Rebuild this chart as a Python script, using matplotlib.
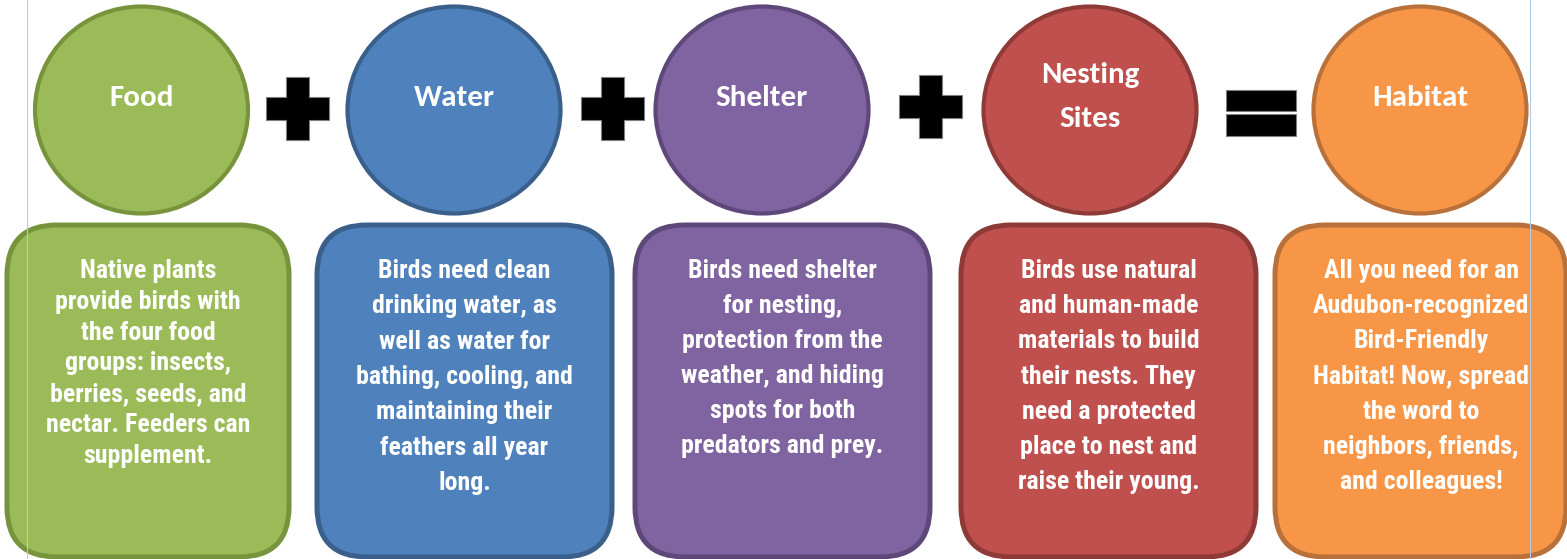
import matplotlib
matplotlib.use("Agg")
import matplotlib.pyplot as plt
from matplotlib import font_manager
from matplotlib.patches import Ellipse, FancyBboxPatch, Polygon, Rectangle
from matplotlib.transforms import Bbox, TransformedBbox

# ---------------- data ----------------
titles = ["Food", "Water", "Shelter", "Nesting\nSites", "Habitat"]
descriptions = [
    ["Native plants", "provide birds with", "the four food", "groups: insects,",
     "berries, seeds, and", "nectar. Feeders can", "supplement."],
    ["Birds need clean", "drinking water, as", "well as water for",
     "bathing, cooling, and", "maintaining their", "feathers all year", "long."],
    ["Birds need shelter", "for nesting,", "protection from the",
     "weather, and hiding", "spots for both", "predators and prey."],
    ["Birds use natural", "and human-made", "materials to build",
     "their nests. They", "need a protected", "place to nest and",
     "raise their young."],
    ["All you need for an", "Audubon-recognized", "Bird-Friendly",
     "Habitat! Now, spread", "the word to", "neighbors, friends,",
     "and colleagues!"],
]
operators = ["+", "+", "+", "="]
fill_colors = ["#9BBB59", "#4F81BD", "#8064A2", "#C0504D", "#F79646"]
edge_colors = ["#77933C", "#3A5F8B", "#5E4879", "#8E3B38", "#B8713A"]

# ---------------- layout ----------------
W, H = 1567, 559
circle_cx = [141.5, 454, 762, 1090, 1420]
circle_cy = 110
circle_w, circle_h = 213, 207
box_x = [(7, 289), (317, 612), (635, 930), (961, 1256), (1275, 1566)]
box_top, box_bot = 225, 557
box_text_baseline0 = 278
box_line_gap = [30.8, 35.3, 35.0, 35.2, 35.2]
op_cx = [297.5, 612, 930, 1261]
op_cy = [108, 108.5, 106.5, 113]

names = {f.name for f in font_manager.fontManager.ttflist}
if "Roboto Condensed" in names:
    body_font, body_size = "Roboto Condensed", 18.6
elif "Liberation Sans Narrow" in names:
    body_font, body_size = "Liberation Sans Narrow", 18.6
else:
    body_font, body_size = "Liberation Sans", 15.8
if "Carlito" in names:
    title_font, title_size = "Carlito", 22.3
else:
    title_font, title_size = ("Lato" if "Lato" in names else "DejaVu Sans"), 20

fig = plt.figure(figsize=(W / 100, H / 100), dpi=100)
ax = fig.add_axes([0, 0, 1, 1])
ax.set_xlim(0, W)
ax.set_ylim(H, 0)
ax.axis("off")

clip = TransformedBbox(Bbox([[0, 0], [1530, H]]), ax.transData)

for i, title in enumerate(titles):
    ax.add_patch(Ellipse((circle_cx[i], circle_cy), circle_w, circle_h,
                         facecolor=fill_colors[i], edgecolor=edge_colors[i],
                         linewidth=3.0, zorder=2))
    tlines = title.split("\n")
    if len(tlines) == 1:
        ax.text(circle_cx[i], 106, tlines[0], ha="center", va="baseline",
                color="white", fontsize=title_size, fontweight="bold",
                family=title_font, zorder=3)
    else:
        for j, t in enumerate(tlines):
            ax.text(circle_cx[i], 82.5 + j * 44.5, t, ha="center", va="baseline",
                    color="white", fontsize=title_size, fontweight="bold",
                    family=title_font, zorder=3)

    x0, x1 = box_x[i]
    ax.add_patch(FancyBboxPatch((x0, box_top), x1 - x0, box_bot - box_top,
                                boxstyle="round,pad=0,rounding_size=50",
                                facecolor=fill_colors[i], edgecolor=edge_colors[i],
                                linewidth=3.6, zorder=2))
    bcx = (x0 + x1) / 2 if i < 4 else 1421
    for j, line in enumerate(descriptions[i]):
        t = ax.text(bcx, box_text_baseline0 + j * box_line_gap[i], line,
                    ha="center", va="baseline", color="white",
                    fontsize=body_size, fontweight="bold", family=body_font,
                    zorder=3)
        t.set_clip_box(clip)
        t.set_clip_on(True)

# operators
for k, op in enumerate(operators):
    cx, cy = op_cx[k], op_cy[k]
    if op == "+":
        a, b = 31.5, 11.5
        pts = [(cx - b, cy - a), (cx + b, cy - a), (cx + b, cy - b), (cx + a, cy - b),
               (cx + a, cy + b), (cx + b, cy + b), (cx + b, cy + a), (cx - b, cy + a),
               (cx - b, cy + b), (cx - a, cy + b), (cx - a, cy - b), (cx - b, cy - b)]
        ax.add_patch(Polygon(pts, closed=True, facecolor="black",
                             edgecolor="#7f7f7f", linewidth=0.8, zorder=2))
    else:
        for y0, y1 in [(90, 111), (114, 136)]:
            ax.add_patch(Rectangle((cx - 35, y0), 70, y1 - y0, facecolor="black",
                                   edgecolor="#7f7f7f", linewidth=0.8, zorder=2))

# page guide lines
for gx in (27, 1530):
    ax.plot([gx, gx], [0, H], color="#B4C9E2", linewidth=0.8, zorder=5)

fig.savefig("out.png", dpi=100, facecolor="white")
